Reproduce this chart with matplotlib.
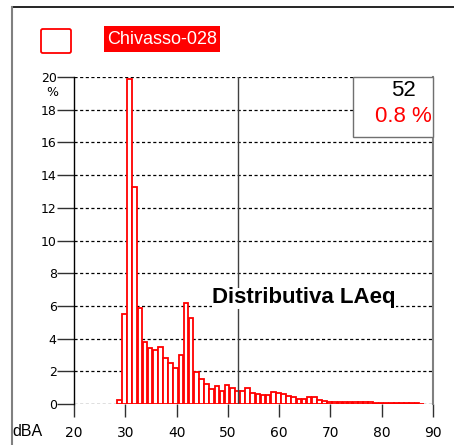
import matplotlib
matplotlib.use("Agg")
import matplotlib.pyplot as plt
from matplotlib.patches import Rectangle, FancyBboxPatch
from matplotlib.lines import Line2D

# Noise level distribution (LAeq), percentage of time per 1 dBA class
levels = list(range(29, 89))
percent = [
    0.25, 5.5, 19.9, 13.3, 5.85, 3.8, 3.4, 3.3, 3.5, 2.8,
    2.5, 2.2, 3.0, 6.2, 5.25, 1.95, 1.55, 1.2, 0.9, 1.1,
    0.8, 1.15, 0.95, 0.8, 0.8, 1.0, 0.7, 0.6, 0.55, 0.55,
    0.75, 0.7, 0.6, 0.5, 0.4, 0.3, 0.3, 0.4, 0.4, 0.25,
    0.2, 0.15, 0.15, 0.12, 0.12, 0.1, 0.12, 0.1, 0.12, 0.12,
    0.08, 0.06, 0.05, 0.05, 0.05, 0.05, 0.05, 0.04, 0.04, 0.03,
]
x_ticks = [20, 30, 40, 50, 60, 70, 80, 90]
y_ticks = [0, 2, 4, 6, 8, 10, 12, 14, 16, 18, 20]
series_name = "Chivasso-028"
chart_title = "Distributiva LAeq"
cursor_level = 52

W, H = 454, 445
fig = plt.figure(figsize=(W / 100, H / 100), dpi=100)
fig.patch.set_facecolor("white")

# axes frame in pixel terms
L, R, T, B = 74, 433, 77, 404
ax = fig.add_axes([L / W, 1 - B / H, (R - L) / W, (B - T) / H])
ax.set_xlim(20, 90)
ax.set_ylim(0, 20)

# dotted horizontal grid
ax.set_yticks(y_ticks)
ax.set_xticks(x_ticks)
ax.yaxis.grid(True, color="black", linestyle=(0, (2.5, 2)), linewidth=0.9, zorder=0)
ax.set_axisbelow(True)

# histogram bars: red outline, white fill
centers = [v - 0.15 for v in levels]
ax.bar(centers, percent, width=0.9, facecolor="white", edgecolor="#ff0000",
       linewidth=1.3, zorder=2)

# cursor line
ax.axvline(cursor_level, color="#404040", linewidth=1.0, zorder=3)

# spines
for s in ("top", "bottom"):
    ax.spines[s].set_visible(False)
ax.spines["left"].set_color("black")
ax.spines["left"].set_linewidth(1.0)
ax.spines["right"].set_color("#808080")
ax.spines["right"].set_linewidth(1.5)

ax.tick_params(axis="y", direction="out", length=12, width=1.0, color="#303030",
               pad=0.5, labelsize=9, labelcolor="black")
ax.tick_params(axis="x", direction="out", length=9, width=1.0, color="#303030",
               pad=6.5, labelsize=10, labelcolor="black")
ax.set_yticklabels([str(v) for v in y_ticks])
ax.set_xticklabels([str(v) for v in x_ticks])

# unit labels
fig.text(52 / W, 1 - 93 / H, "%", ha="center", va="center", fontsize=9,
         family="DejaVu Sans")
fig.text(12 / W, 1 - 432 / H, "dBA", ha="left", va="center", fontsize=11.5,
         family="Liberation Sans")

# chart title inside plot
ax.text((212 - L) / (R - L), (B - 298) / (B - T), chart_title,
        transform=ax.transAxes, ha="left", va="center", fontsize=16,
        fontweight="bold", family="Liberation Sans", zorder=5,
        bbox=dict(facecolor="white", edgecolor="none", pad=0))

# cursor readout box
bx0 = (353 - L) / (R - L)
by0 = (B - 137) / (B - T)
ax.add_patch(Rectangle((bx0, by0), 1 - bx0, 1 - by0, transform=ax.transAxes,
                       facecolor="white", edgecolor="#707070", linewidth=1.0,
                       zorder=6, clip_on=False))
cursor_pct = percent[levels.index(cursor_level)]
bxc = (403 - L) / (R - L)
ax.text(bxc, (B - 90) / (B - T), f"{cursor_level}", transform=ax.transAxes,
        ha="center", va="center", fontsize=16, family="Liberation Sans",
        color="black", zorder=7)
ax.text(bxc, (B - 116) / (B - T), f"{cursor_pct:.1f} %", transform=ax.transAxes,
        ha="center", va="center", fontsize=16, family="Liberation Sans",
        color="#ff0000", zorder=7)

# legend: red outlined swatch and white-on-red series name
fig.patches.append(FancyBboxPatch((41 / W, 1 - 53 / H), 30 / W, 24 / H,
                                  boxstyle="round,pad=0,rounding_size=0.004",
                                  transform=fig.transFigure, facecolor="white",
                                  edgecolor="#ff0000", linewidth=1.3))
fig.patches.append(Rectangle((104 / W, 1 - 52 / H), 116 / W, 26 / H,
                             transform=fig.transFigure, facecolor="#ff0000",
                             edgecolor="none"))
fig.text(162 / W, 1 - 39.5 / H, series_name, ha="center", va="center",
         fontsize=13, family="Liberation Sans", color="white")

# outer frame
fig.add_artist(Line2D([12 / W, 1], [1 - 7 / H, 1 - 7 / H], transform=fig.transFigure,
                      color="black", linewidth=1.2))
fig.add_artist(Line2D([12 / W, 12 / W], [0, 1 - 7 / H], transform=fig.transFigure,
                      color="#808080", linewidth=1.5))

fig.savefig("out.png", dpi=100, facecolor="white")
